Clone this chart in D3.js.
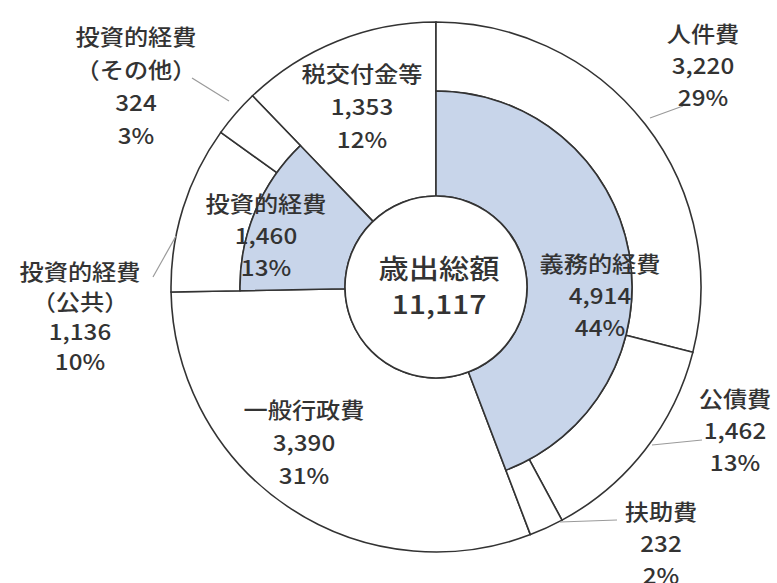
<!DOCTYPE html>
<html><head><meta charset="utf-8">
<script src="https://cdn.jsdelivr.net/npm/d3@7"></script>
<style>
html,body{margin:0;padding:0;background:#fff;}
svg{display:block;}
text{font-family:"Noto Sans CJK JP","Noto Sans",sans-serif;fill:#333;font-weight:500;}
</style></head>
<body>
<svg id="chart" width="777" height="583"></svg>
<script>
// ---- data ----
const items   = ["人件費","公債費","扶助費","一般行政費","投資的経費（公共）","投資的経費（その他）","税交付金等"];
const values  = [3220, 1462, 232, 3390, 1136, 324, 1353];
const percents= ["29%","13%","2%","31%","10%","3%","12%"];
const groups  = ["義務的経費","義務的経費","義務的経費",null,"投資的経費","投資的経費",null];
const groupNames   = ["義務的経費","投資的経費"];
const groupPercents= ["44%","13%"];
const totalLabel = "歳出総額";

// ---- layout ----
const cx = 436, cy = 287;
const rIn = 91, rMid = 196, rOut = 265;
const blue = "#c8d5ea", stroke = "#333";
const fmt = d3.format(",");
const total = d3.sum(values);

// label layout (text anchor x, first baseline y, line spacing)
const labelPos = {
  "人件費":        {x:703, y:42,  dy:32, lines:["人件費"]},
  "公債費":        {x:735, y:407, dy:32, lines:["公債費"]},
  "扶助費":        {x:661, y:520, dy:32, lines:["扶助費"]},
  "一般行政費":    {x:304, y:418, dy:33, lines:["一般行政費"]},
  "投資的経費（公共）":  {x:80,  y:280, dy:30, lines:["投資的経費","（公共）"]},
  "投資的経費（その他）":{x:136, y:45,  dy:33, lines:["投資的経費","（その他）"]},
  "税交付金等":    {x:362, y:82,  dy:33, lines:["税交付金等"]},
  "義務的経費":    {x:600, y:272, dy:32, lines:["義務的経費"]},
  "投資的経費":    {x:266, y:212, dy:32, lines:["投資的経費"]}
};
const leaders = {
  "人件費": [[650,118],[683,106]],
  "公債費": [[652,445],[702,440]],
  "扶助費": [[560,522],[617,520]],
  "投資的経費（公共）": [[153,277],[176,236]],
  "投資的経費（その他）": [[192,78],[229,101]]
};

const svg = d3.select("#chart");
const g = svg.append("g").attr("transform", `translate(${cx},${cy})`);

const pie = d3.pie().sort(null).value(d => d.value).startAngle(0).endAngle(2*Math.PI);
const itemData = items.map((n,i) => ({name:n, value:values[i], pct:percents[i], group:groups[i]}));
const arcsOuter = pie(itemData);

// group arcs (inner ring)
const groupArcs = groupNames.map((gn, k) => {
  const a = arcsOuter.filter(d => d.data.group === gn);
  return {name: gn, startAngle: a[0].startAngle, endAngle: a[a.length-1].endAngle,
          value: d3.sum(a, d => d.value), pct: groupPercents[k]};
});

const arcFull = d3.arc().innerRadius(rIn).outerRadius(rOut);
const arcOuterRing = d3.arc().innerRadius(rMid).outerRadius(rOut);
const arcInnerRing = d3.arc().innerRadius(rIn).outerRadius(rMid);

// ungrouped items span both rings
g.selectAll("path.full").data(arcsOuter.filter(d => !d.data.group)).join("path")
  .attr("class","full").attr("d", arcFull)
  .attr("fill","#fff").attr("stroke",stroke).attr("stroke-width",1.6);

// outer ring sub items
g.selectAll("path.sub").data(arcsOuter.filter(d => d.data.group)).join("path")
  .attr("class","sub").attr("d", arcOuterRing)
  .attr("fill","#fff").attr("stroke",stroke).attr("stroke-width",1.6);

// inner ring groups
g.selectAll("path.grp").data(groupArcs).join("path")
  .attr("class","grp").attr("d", arcInnerRing)
  .attr("fill",blue).attr("stroke",stroke).attr("stroke-width",1.6);

// center circle
g.append("circle").attr("r", rIn).attr("fill","#fff").attr("stroke",stroke).attr("stroke-width",1.6);

// leader lines
Object.entries(leaders).forEach(([k, pts]) => {
  svg.append("path").attr("d", d3.line()(pts))
    .attr("fill","none").attr("stroke","#9a9a9a").attr("stroke-width",1.2);
});

// labels
const sx = 1.1;
function drawLabel(name, value, pct, fs) {
  const p = labelPos[name];
  const lines = p.lines.concat([fmt(value), pct]);
  const t = svg.append("g").attr("transform", `translate(${p.x},0) scale(${sx},1)`);
  lines.forEach((ln, i) => {
    t.append("text").attr("x",0).attr("y", p.y + i*p.dy)
      .attr("text-anchor","middle").attr("font-size", fs).text(ln);
  });
}
itemData.forEach(d => drawLabel(d.name, d.value, d.pct, 22));
groupArcs.forEach(d => drawLabel(d.name, d.value, d.pct, 22));

// center text
const ct = svg.append("g").attr("transform", `translate(${cx+3},0) scale(1.12,1)`);
ct.append("text").attr("y", 279).attr("text-anchor","middle").attr("font-size",27).text(totalLabel);
ct.append("text").attr("y", 314).attr("text-anchor","middle").attr("font-size",27).text(fmt(total));
</script>
</body></html>
